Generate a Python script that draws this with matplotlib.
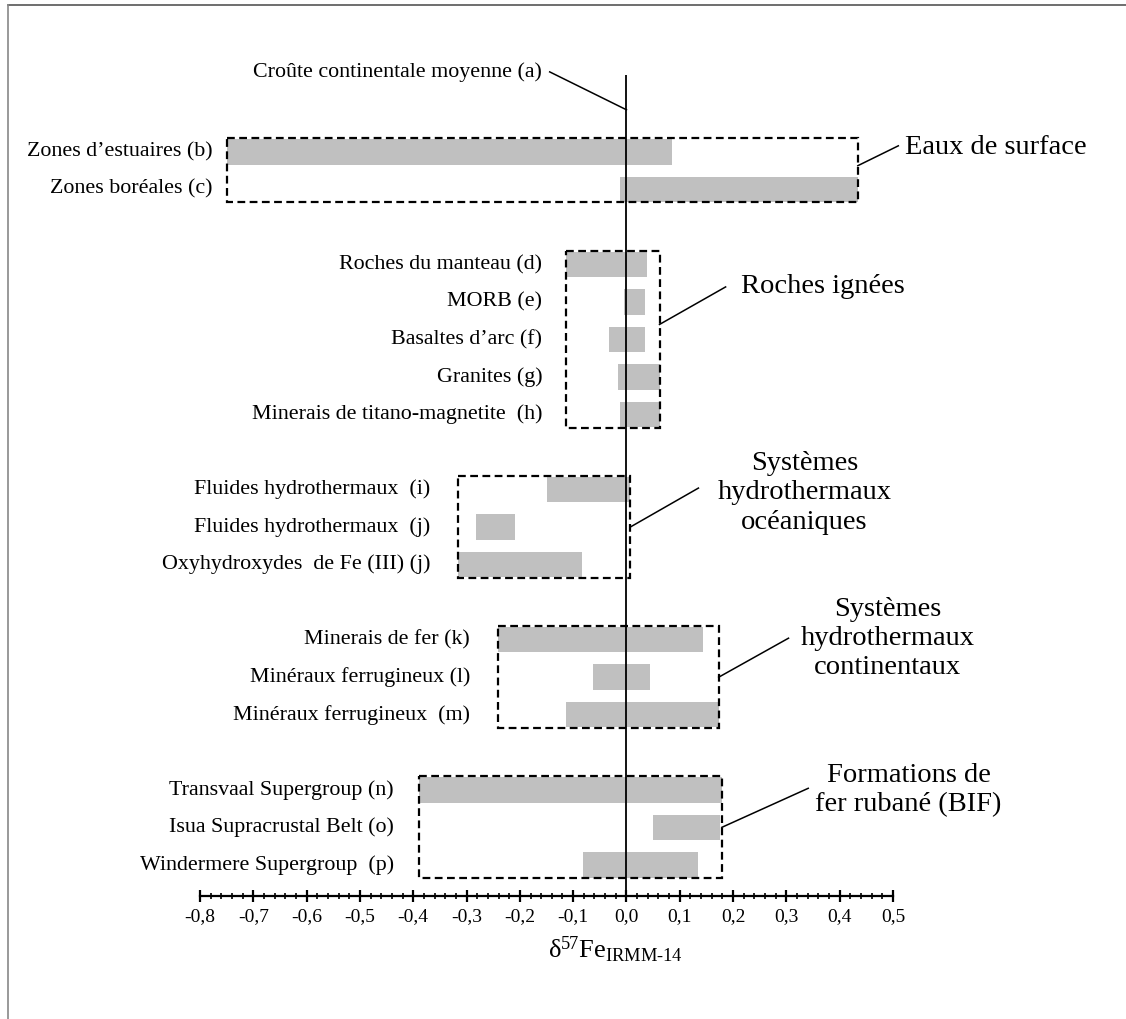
import numpy as np
import matplotlib.pyplot as plt
from matplotlib.patches import Rectangle
from matplotlib.lines import Line2D

plt.rcParams['font.family'] = ['Liberation Serif', 'DejaVu Serif']
plt.rcParams['mathtext.fontset'] = 'custom'
plt.rcParams['mathtext.rm'] = 'Liberation Serif'
plt.rcParams['mathtext.it'] = 'Liberation Serif:italic'

# Data: delta57Fe ranges per reservoir
labels = ['Zones d\u2019estuaires (b)', 'Zones boréales (c)',
          'Roches du manteau (d)', 'MORB (e)', 'Basaltes d\u2019arc (f)',
          'Granites (g)', 'Minerais de titano-magnetite  (h)',
          'Fluides hydrothermaux  (i)', 'Fluides hydrothermaux  (j)',
          'Oxyhydroxydes  de Fe (III) (j)',
          'Minerais de fer (k)', 'Minéraux ferrugineux (l)', 'Minéraux ferrugineux  (m)',
          'Transvaal Supergroup (n)', 'Isua Supracrustal Belt (o)', 'Windermere Supergroup  (p)']
lows = np.array([-0.75, -0.012, -0.113, -0.005, -0.032, -0.016, -0.013,
                 -0.150, -0.282, -0.316, -0.241, -0.062, -0.113, -0.389, 0.049, -0.081])
highs = np.array([0.085, 0.434, 0.038, 0.034, 0.034, 0.062, 0.062,
                  0.007, -0.209, -0.083, 0.143, 0.045, 0.173, 0.179, 0.175, 0.135])
rows = np.array([2, 3, 5, 6, 7, 8, 9, 11, 12, 13, 15, 16, 17, 19, 20, 21])

crust_label = 'Croûte continentale moyenne (a)'

group_names = ['Eaux de surface', 'Roches ignées',
               'Systèmes\nhydrothermaux\nocéaniques',
               'Systèmes\nhydrothermaux\ncontinentaux',
               'Formations de\nfer rubané (BIF)']
group_members = [[0, 1], [2, 3, 4, 5, 6], [7, 8, 9], [10, 11, 12], [13, 14, 15]]

xticks = np.round(np.arange(-0.8, 0.51, 0.1), 1)
xtick_labels = [f'{v:.1f}'.replace('.', ',').replace('-0,0', '0,0') for v in xticks]

fig = plt.figure(figsize=(11.26, 10.19), dpi=100)
ax = fig.add_axes([200 / 1126, 123 / 1019, 693 / 1126, 838 / 1019])
ax.set_xlim(-0.8, 0.5)
ax.set_ylim(21.83, -0.5)

# bars
ax.barh(rows, highs - lows, left=lows, height=0.68, color='#c0c0c0', zorder=1)

# zero line
ax.vlines(0, -0.05, 21.83, color='black', lw=1.3, zorder=3)

# crust label with leader
ax.text(-0.158, -0.13, crust_label, ha='right', va='center', fontsize=15.8, clip_on=False)
ax.plot([-0.144, 0.0], [-0.13, 0.88], color='black', lw=1.1, clip_on=False)

# group boxes and row labels
label_gap = [14, 24, 28, 28, 25]
attach_rows = [2.37, 6.6, 12.0, 16.0, 20.0]
text_pos = [(0.522, 1.89, 'left'), (0.214, 5.6, 'left'), (0.334, 11.09, 'center'),
            (0.490, 14.96, 'center'), (0.529, 19.01, 'center')]
leader_end = [(0.510, 1.84), (0.186, 5.6), (0.135, 10.96), (0.304, 14.96), (0.341, 18.96)]

for g, members in enumerate(group_members):
    x0 = lows[members].min()
    x1 = highs[members].max()
    y0 = rows[members].min() - 0.36
    y1 = rows[members].max() + 0.35
    ax.add_patch(Rectangle((x0, y0), x1 - x0, y1 - y0, fill=False, edgecolor='black',
                           lw=1.6, linestyle=(0, (3.5, 2)), zorder=2, clip_on=False))
    for m in members:
        ax.annotate(labels[m], xy=(x0, rows[m]), xytext=(-label_gap[g] * 0.72, 0),
                    textcoords='offset points', ha='right', va='center', fontsize=15.8)
    tx, ty, ha = text_pos[g]
    ax.text(tx, ty, group_names[g], ha=ha, va='center', fontsize=20.5,
            linespacing=1.22, clip_on=False)
    ex, ey = leader_end[g]
    ax.plot([x1, ex], [attach_rows[g], ey], color='black', lw=1.1, clip_on=False)

# axis styling
for s in ['left', 'right', 'top']:
    ax.spines[s].set_visible(False)
ax.spines['bottom'].set_linewidth(1.6)
ax.set_yticks([])
ax.set_xticks(xticks)
ax.set_xticklabels(xtick_labels, fontsize=14)
ax.set_xticks(np.round(np.arange(-0.8, 0.51, 0.02), 2), minor=True)
ax.tick_params(axis='x', which='major', direction='inout', length=8, width=1.6, pad=5)
ax.tick_params(axis='x', which='minor', direction='inout', length=4, width=1.2)
ax.patch.set_visible(False)

xlabel = '\u03b4$^{57}$Fe$_{\\mathrm{IRMM\u201014}}$'
ax.text(0.60, -0.064, xlabel, transform=ax.transAxes,
        ha='center', va='center', fontsize=19)

# outer frame lines (top and left)
fig.add_artist(Line2D([8 / 1126, 1], [1 - 5 / 1019, 1 - 5 / 1019], color='#555555', lw=1.2))
fig.add_artist(Line2D([8 / 1126, 8 / 1126], [0, 1 - 5 / 1019], color='#888888', lw=1.2))

fig.savefig('out.png', dpi=100)
